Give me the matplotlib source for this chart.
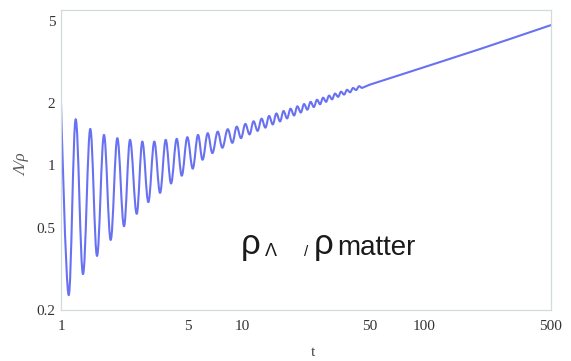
import matplotlib
matplotlib.use("Agg")
import matplotlib.pyplot as plt
from matplotlib.path import Path
from matplotlib.patches import PathPatch

# curve: start, alternating troughs/peaks (extrema)
t_extrema = [1.0, 1.103, 1.205, 1.322, 1.450, 1.579, 1.725, 1.878, 2.043, 2.224, 2.400,
             2.613, 2.805, 3.027, 3.266, 3.512, 3.775, 4.037, 4.340, 4.624, 4.965,
             5.317, 5.686, 6.020, 6.432, 6.818, 7.302, 7.740, 8.289, 8.786, 9.290,
             9.811, 10.36, 10.93, 11.50, 12.10, 12.73, 13.36, 14.00, 14.67, 15.36,
             16.09, 16.82, 17.59, 18.38, 19.22, 20.04, 20.93, 21.83, 22.75, 23.70,
             24.69, 25.73, 26.73, 27.77, 28.84, 29.97, 31.12, 32.33, 33.59, 34.89,
             36.24, 37.65, 39.11, 40.62, 42.20, 43.85, 45.55]
ratio_extrema = [2.00, 0.236, 1.670, 0.298, 1.500, 0.365, 1.403, 0.436, 1.353, 0.508, 1.328,
                 0.583, 1.303, 0.664, 1.303, 0.736, 1.328, 0.817, 1.343, 0.891, 1.368,
                 0.964, 1.403, 1.064, 1.430, 1.146, 1.455, 1.216, 1.495, 1.284, 1.538,
                 1.353, 1.585, 1.411, 1.633, 1.467, 1.681, 1.521, 1.732, 1.576, 1.781,
                 1.630, 1.830, 1.685, 1.878, 1.741, 1.928, 1.800, 1.978, 1.857, 2.027,
                 1.913, 2.075, 1.972, 2.123, 2.027, 2.173, 2.084, 2.222, 2.142, 2.269,
                 2.197, 2.317, 2.254, 2.364, 2.312, 2.412, 2.366]
# smooth tail
t_tail = [45.55, 50.0, 100.0, 200.0, 300.0, 500.0]
ratio_tail = [2.366, 2.45, 2.98, 3.63, 4.09, 4.76]

x_ticks = [1, 5, 10, 50, 100, 500]
x_tick_labels = ["1", "5", "10", "50", "100", "500"]
y_ticks = [0.2, 0.5, 1, 2, 5]
y_tick_labels = ["0.2", "0.5", "1", "2", "5"]

fig = plt.figure(figsize=(5.71, 3.61), dpi=100)
ax = fig.add_axes([61 / 571, 1 - 310 / 361, 490 / 571, 300 / 361])
ax.set_xscale("log")
ax.set_yscale("log")
ax.set_xlim(1, 500)
ax.set_ylim(0.2, 5.63)

# oscillating part: smooth cubic segments between extrema (flat tangents at extrema)
k = 0.363
verts = [(t_extrema[0], ratio_extrema[0])]
codes = [Path.MOVETO]
for i in range(len(t_extrema) - 1):
    ta, ya = t_extrema[i], ratio_extrema[i]
    tb, yb = t_extrema[i + 1], ratio_extrema[i + 1]
    r = tb / ta
    if i == 0:
        c1 = (ta, ya)
    else:
        c1 = (ta * r ** k, ya)
    c2 = (tb / r ** k, yb)
    verts += [c1, c2, (tb, yb)]
    codes += [Path.CURVE4] * 3
for t, y in zip(t_tail[1:], ratio_tail[1:]):
    verts.append((t, y))
    codes.append(Path.LINETO)

curve = PathPatch(Path(verts, codes), facecolor="none", edgecolor="#5862f0",
                  lw=1.5, alpha=0.9, transform=ax.transData,
                  joinstyle="round", capstyle="round")
ax.add_patch(curve)

ax.set_xticks(x_ticks)
ax.set_xticklabels(x_tick_labels)
ax.set_yticks(y_ticks)
ax.set_yticklabels(y_tick_labels)
ax.minorticks_off()
ax.tick_params(length=0, labelsize=11, labelcolor="#333333")
ax.tick_params(axis="x", pad=7)
ax.tick_params(axis="y", pad=4)
for lab in ax.get_xticklabels() + ax.get_yticklabels():
    lab.set_family("Liberation Serif")

for sp in ax.spines.values():
    sp.set_color("#d3dade")
    sp.set_linewidth(0.9)

fig.text(22 / 571, 1 - 165 / 361, "Λ/ρ", rotation=90, ha="center", va="center",
         fontsize=12, style="italic", family="Liberation Serif", color="#555555")
fig.text(313 / 571, 1 - 352 / 361, "t", ha="center", va="center",
         fontsize=11, family="Liberation Serif", color="#444444")

# annotation
fig.text(241 / 571, 1 - 254 / 361, "ρ", fontsize=25, family="Liberation Sans",
         color="#1a1a1a", va="baseline")
fig.text(265 / 571, 1 - 256 / 361, "Λ", fontsize=13, family="Liberation Sans",
         color="#1a1a1a", va="baseline")
fig.text(304 / 571, 1 - 256 / 361, "/", fontsize=11, family="Liberation Sans",
         color="#1a1a1a", va="baseline")
fig.text(314 / 571, 1 - 254 / 361, "ρ", fontsize=25, family="Liberation Sans",
         color="#1a1a1a", va="baseline")
fig.text(337 / 571, 1 - 255 / 361, "matter", fontsize=20, family="Liberation Sans",
         color="#1a1a1a", va="baseline")

fig.savefig("out.png", dpi=100)
